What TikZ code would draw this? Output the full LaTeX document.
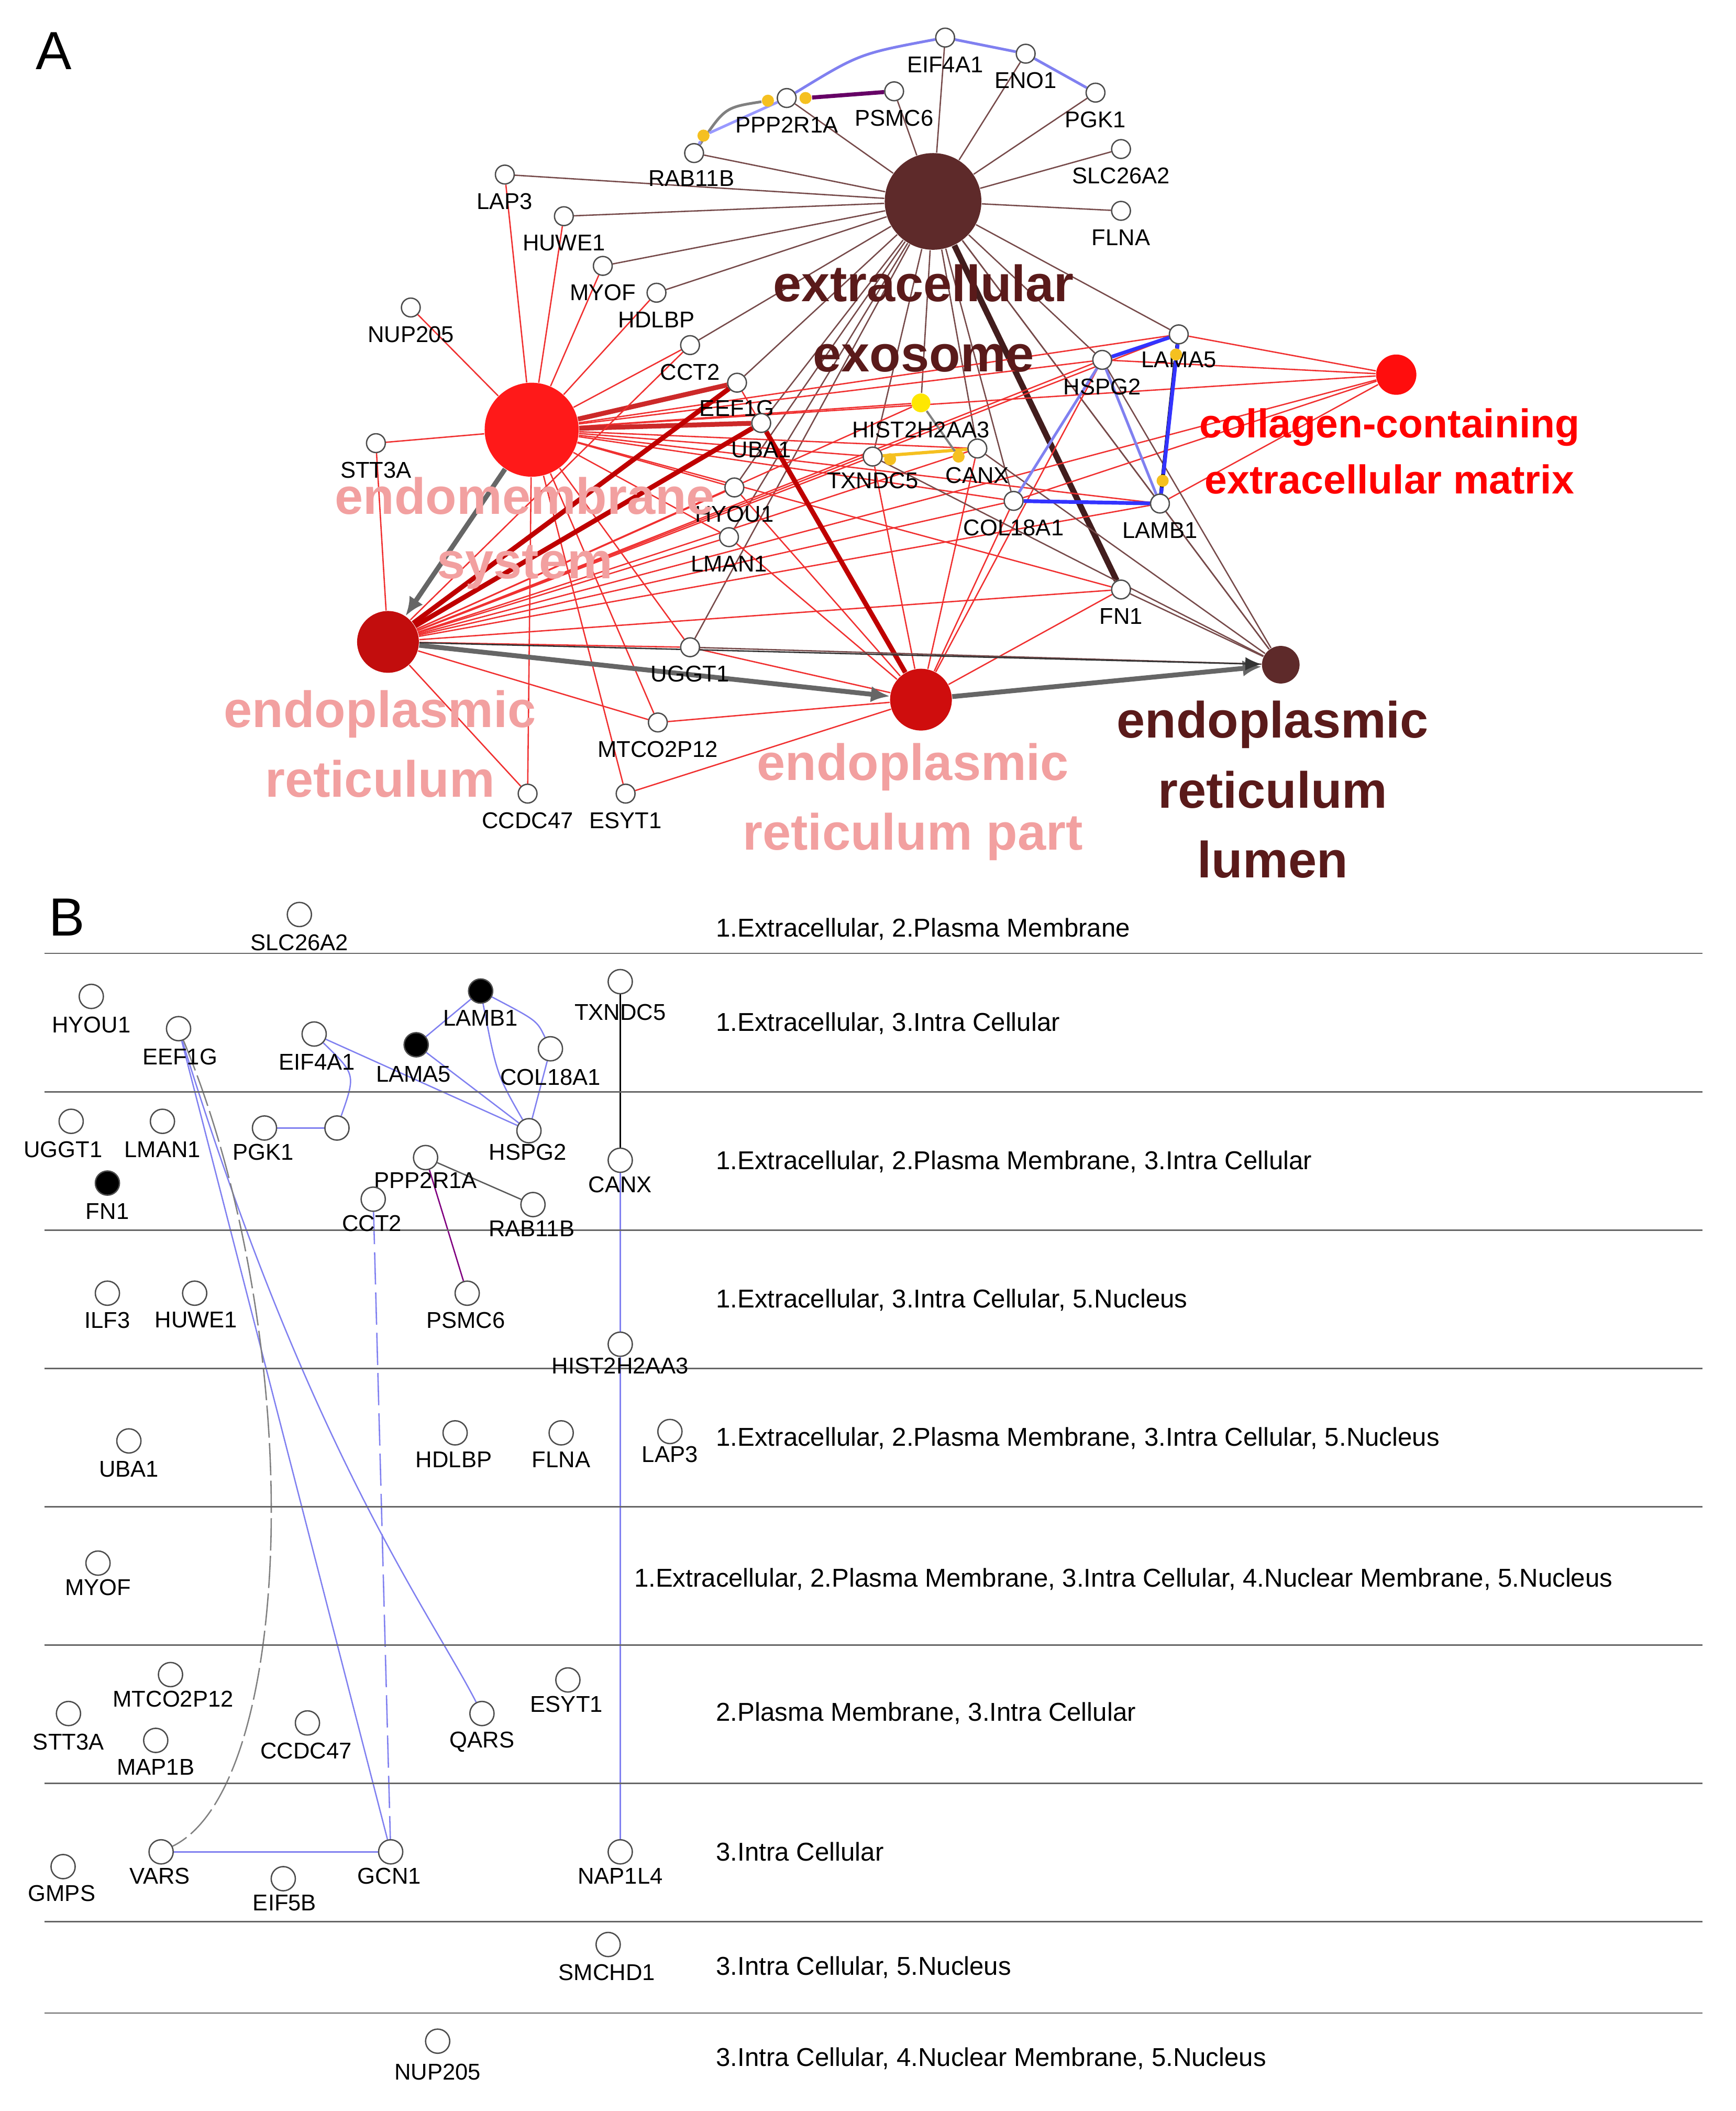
\documentclass[tikz,border=0pt]{standalone}
\usepackage{fontspec}
\setmainfont{Liberation Sans}
\usetikzlibrary{backgrounds,arrows.meta}
\definecolor{exoC}{HTML}{5E2A2A}
\definecolor{redE}{HTML}{F03030}
\definecolor{pinkT}{HTML}{F2A0A0}
\definecolor{darkT}{HTML}{5A1A1A}
\definecolor{blueE}{HTML}{8080F0}
\definecolor{yel}{HTML}{F5C020}
\tikzset{
 gn/.style={circle,draw=black!70,fill=white,line width=0.5pt,minimum size=7pt,inner sep=0pt},
 bn/.style={circle,draw=black!70,fill=white,line width=0.5pt,minimum size=9pt,inner sep=0pt},
 bk/.style={bn,fill=black},
 yd/.style={circle,fill=yel,minimum size=4.5pt,inner sep=0pt},
 lab/.style={font=\fontsize{8.5}{9}\selectfont,inner sep=0pt},
 rowl/.style={font=\fontsize{9.6}{10}\selectfont,anchor=west,inner sep=0pt},
 hub/.style={circle,inner sep=0pt},
 big/.style={font=\fontsize{19}{22}\selectfont\bfseries,align=center,inner sep=0pt},
 exoE/.style={exoC!85,line width=0.5pt},
 redL/.style={redE,line width=0.5pt},
 thk/.style={line width=1.8pt},
 garr/.style={gray!80!black,line width=1.8pt,-{Latex[length=7pt,width=6pt]}},
 blE/.style={blueE,line width=0.5pt}
}
\begin{document}
\begin{tikzpicture}[x=0.5pt,y=-0.5pt]
\useasboundingbox (0,0) rectangle (1293,1572);
\node[font=\fontsize{20}{22}\selectfont] (titA) at (40,38) {A};
\node[font=\fontsize{20}{22}\selectfont] (titB) at (50,683) {B};
% hubs
\node[hub,fill=exoC,minimum size=36pt] (exo) at (695,150) {};
\node[hub,fill=red!90!white,minimum size=35pt] (endo) at (396,320) {};
\node[hub,fill=red!75!black!95,minimum size=23pt] (ER) at (289,478) {};
\node[hub,fill=red!80!black!95,minimum size=23pt] (ERp) at (686,521) {};
\node[hub,fill=exoC,minimum size=14pt] (ERl) at (954,495) {};
\node[hub,fill=red!95!white,minimum size=15pt] (col) at (1040,279) {};
% genes A
\foreach \n/\x/\y/\lx/\ly in {EIF4A1/704/28/704/48, ENO1/764/40/764/60, PGK1/816/69/816/89, SLC26A2/835/111/835/131, FLNA/835/157/835/177, PSMC6/666/68/666/88, PPP2R1A/586/73/586/93, RAB11B/517/114/515/133, LAP3/376/130/376/150, HUWE1/420/161/420/181, MYOF/449/198/449/218, HDLBP/489/218/489/238, NUP205/306/229/306/249, CCT2/514/257/514/277, EEF1G/549/285/549/304, UBA1/567/315/567/335, STT3A/280/330/280/350, HYOU1/547/363/547/383, LMAN1/543/400/543/420, TXNDC5/650/340/650/358, CANX/728/334/728/354, LAMA5/878/249/878/268, HSPG2/821/268/821/288, COL18A1/755/373/755/393, LAMB1/864/375/864/395, FN1/835/439/835/459, UGGT1/514/482/514/502, MTCO2P12/490/538/490/558, CCDC47/393/591/393/611, ESYT1/466/591/466/611}
 {\node[gn] (\n) at (\x,\y) {}; \node[lab] (l\n) at (\lx,\ly) {\n};}
\node[circle,fill=yellow!90!orange,minimum size=7pt,inner sep=0pt] (HIST) at (686,300) {};
\node[lab] (lHIST) at (686,320) {HIST2H2AA3};
\node[yd] (y1) at (572,75) {}; \node[yd] (y2) at (600,73) {};
\node[yd] (y3) at (524,101) {}; \node[yd] (y4) at (876,264) {};
\node[yd] (y5) at (866,358) {}; \node[yd] (y6) at (663,342) {};
\node[yd] (y7) at (714,340) {};
% hub labels
\node[big,text=darkT] (texo) at (688,237) {extracellular\\[4pt]exosome};
\node[big,text=pinkT] (tendo) at (391,397) {endomembrane\\[2pt]system};
\node[big,text=pinkT] (tER) at (283,554) {endoplasmic\\[4pt]reticulum};
\node[big,text=pinkT] (tERp) at (680,597) {endoplasmic\\[4pt]reticulum part};
\node[big,text=darkT] (tERl) at (948,588) {endoplasmic\\[4pt]reticulum\\[4pt]lumen};
\node[big,text=red,font=\fontsize{15}{18}\selectfont\bfseries] (tcol) at (1035,336) {collagen-containing\\[3pt]extracellular matrix};
\begin{pgfonlayer}{background}
\foreach \g in {EIF4A1,ENO1,PGK1,SLC26A2,FLNA,PSMC6,PPP2R1A,RAB11B,LAP3,HUWE1,MYOF,HDLBP,CCT2,EEF1G,UBA1,HYOU1,TXNDC5,CANX,HSPG2,LAMA5,COL18A1,LAMB1,ERl,UGGT1,LMAN1,HIST}
 \draw[exoE] (exo) -- (\g);
\draw[exoC!70!black,line width=2.2pt] (exo) -- (FN1);
\foreach \g in {LAP3,HUWE1,MYOF,HDLBP,CCT2,NUP205,STT3A,HYOU1,LMAN1,TXNDC5,CANX,HSPG2,LAMA5,COL18A1,LAMB1,FN1,UGGT1,MTCO2P12,CCDC47,ESYT1,HIST,col}
 \draw[redL] (endo) -- (\g);
\draw[redE!85!black,thk] (endo) -- (EEF1G);
\draw[redE!85!black,thk] (endo) -- (UBA1);
\foreach \g in {CCT2,STT3A,HYOU1,LMAN1,TXNDC5,CANX,HSPG2,LAMA5,COL18A1,LAMB1,FN1,UGGT1,MTCO2P12,CCDC47,col,HIST}
 \draw[redL] (ER) -- (\g);
\draw[red!75!black,thk] (ER) -- (EEF1G);
\draw[red!75!black,thk] (ER) -- (UBA1);
\foreach \g in {HYOU1,LMAN1,UGGT1,MTCO2P12,ESYT1,TXNDC5,CANX,FN1,EEF1G,HSPG2,COL18A1}
 \draw[redL] (ERp) -- (\g);
\draw[red!75!black,thk] (ERp) -- (UBA1);
\foreach \g in {LAMA5,HSPG2,LAMB1,COL18A1}
 \draw[redL] (col) -- (\g);
\foreach \g in {FN1,LAMB1,HSPG2,UGGT1,CANX,TXNDC5}
 \draw[exoE] (ERl) -- (\g);
\draw[garr] (endo) -- (ER);
\draw[garr] (ER) -- (ERp);
\draw[garr] (ERp) -- (ERl);
\draw[black!80,line width=0.5pt,-{Latex[length=6pt,width=5pt]}] (ER) -- (ERl);
% gene-gene A
\draw[blE,line width=1pt] (PPP2R1A) .. controls (640,40) .. (EIF4A1);
\draw[blE,line width=1pt] (EIF4A1) -- (ENO1) -- (PGK1);
\draw[violet!80!black,line width=1.5pt] (y2) -- (PSMC6);
\draw[gray,line width=1pt] (RAB11B) .. controls (540,80) .. (y1);
\draw[blue!40!white,line width=1pt] (RAB11B) -- (y3) -- (PPP2R1A);
\draw[blue!80!white,line width=1.4pt] (HSPG2) -- (LAMA5);
\draw[black,line width=1.4pt] (LAMA5) -- (y4) -- (LAMB1);
\draw[blue!80!white,line width=1.4pt] (LAMA5) -- (y5) -- (LAMB1);
\draw[blue!80!white,line width=1.4pt] (COL18A1) -- (LAMB1);
\draw[blE,line width=1pt] (HSPG2) -- (COL18A1);
\draw[blE,line width=1pt] (HSPG2) -- (LAMB1);
\draw[yel,line width=1.2pt] (TXNDC5) -- (CANX);
\draw[gray,line width=0.8pt] (HIST) -- (y7);
\end{pgfonlayer}
% ---- Panel B ----
\foreach \y in {710,813,916,1019,1122,1225,1328,1431,1499}
 \draw[gray!80!black,line width=0.5pt] (33,\y) -- (1268,\y);
\node[rowl] (r1) at (533,692) {1.Extracellular, 2.Plasma Membrane};
\node[rowl] (r2) at (533,762) {1.Extracellular, 3.Intra Cellular};
\node[rowl] (r3) at (533,865) {1.Extracellular, 2.Plasma Membrane, 3.Intra Cellular};
\node[rowl] (r4) at (533,968) {1.Extracellular, 3.Intra Cellular, 5.Nucleus};
\node[rowl] (r5) at (533,1071) {1.Extracellular, 2.Plasma Membrane, 3.Intra Cellular, 5.Nucleus};
\node[rowl] (r6) at (472,1176) {1.Extracellular, 2.Plasma Membrane, 3.Intra Cellular, 4.Nuclear Membrane, 5.Nucleus};
\node[rowl] (r7) at (533,1276) {2.Plasma Membrane, 3.Intra Cellular};
\node[rowl] (r8) at (533,1379) {3.Intra Cellular};
\node[rowl] (r9) at (533,1465) {3.Intra Cellular, 5.Nucleus};
\node[rowl] (r10) at (533,1533) {3.Intra Cellular, 4.Nuclear Membrane, 5.Nucleus};
\foreach \n/\x/\y/\lx/\ly in {SLC26A2/223/681/223/702, HYOU1/68/742/68/763, EEF1G/133/766/134/787, EIF4A1/234/770/236/791, COL18A1/410/781/410/802, TXNDC5/462/731/462/754, UGGT1/53/835/47/856, LMAN1/121/835/121/856, PGK1/197/840/196/858, HSPG2/394/842/393/858, PPP2R1A/317/862/317/879, CANX/462/864/462/882, CCT2/278/893/277/911, RAB11B/397/897/396/915, ILF3/80/963/80/983, HUWE1/145/963/146/983, PSMC6/348/963/347/983, HIST2H2AA3/462/1001/462/1017, UBA1/96/1073/96/1094, HDLBP/339/1067/338/1087, FLNA/418/1067/418/1087, LAP3/499/1066/499/1083, MYOF/73/1164/73/1182, MTCO2P12/127/1247/129/1265, ESYT1/423/1251/422/1269, STT3A/51/1276/51/1297, MAP1B/116/1296/116/1316, CCDC47/229/1283/228/1304, QARS/359/1276/359/1297, GMPS/47/1390/46/1410, VARS/120/1379/119/1397, EIF5B/211/1399/212/1417, GCN1/291/1379/290/1397, NAP1L4/462/1379/462/1397, SMCHD1/453/1448/452/1469, NUP205/326/1520/326/1543}
 {\node[bn] (b\n) at (\x,\y) {}; \node[lab] (bl\n) at (\lx,\ly) {\n};}
\node[bk] (bLAMB1) at (358,738) {}; \node[lab] (blLAMB1) at (358,758) {LAMB1};
\node[bk] (bLAMA5) at (310,778) {}; \node[lab] (blLAMA5) at (308,800) {LAMA5};
\node[bk] (bFN1) at (80,881) {}; \node[lab] (blFN1) at (80,902) {FN1};
\node[bn] (bX) at (251,840) {};
\begin{pgfonlayer}{background}
\draw[black,line width=0.5pt] (bTXNDC5) -- (bCANX);
\draw[blE] (bCANX) -- (bHIST2H2AA3) -- (bNAP1L4);
\draw[blE] (bLAMB1) -- (bLAMA5);
\draw[blE] (bLAMB1) .. controls (400,760) .. (bCOL18A1);
\draw[blE] (bLAMB1) .. controls (370,800) .. (bHSPG2);
\draw[blE] (bLAMA5) -- (bHSPG2);
\draw[blE] (bCOL18A1) -- (bHSPG2);
\draw[blE] (bEIF4A1) -- (bHSPG2);
\draw[blE] (bEIF4A1) .. controls (265,800) .. (bX);
\draw[blE] (bPGK1) -- (bX);
\draw[gray!70!black,line width=0.5pt] (bPPP2R1A) -- (bRAB11B);
\draw[violet,line width=0.5pt] (bPPP2R1A) -- (bPSMC6);
\draw[blE] (bEEF1G) .. controls (230,1080) and (320,1200) .. (bQARS);
\draw[blE] (bEEF1G) -- (bGCN1);
\draw[gray,line width=0.5pt,dash pattern=on 12pt off 2pt] (bEEF1G) .. controls (230,1000) and (220,1330) .. (bVARS);
\draw[blE,dash pattern=on 12pt off 3pt] (bCCT2) -- (bGCN1);
\draw[blE] (bVARS) -- (bGCN1);
\end{pgfonlayer}
\end{tikzpicture}
\end{document}
